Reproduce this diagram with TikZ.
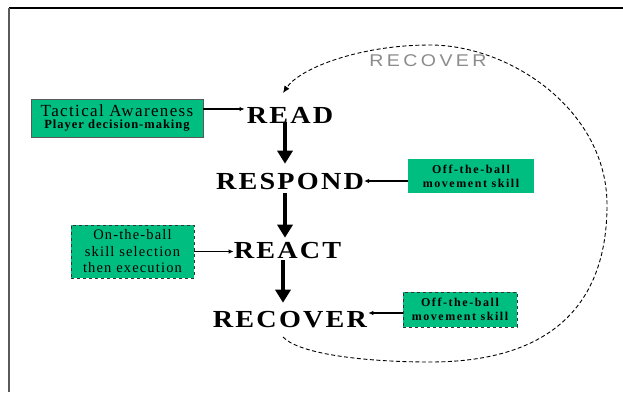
\documentclass[tikz,border=0pt]{standalone}
\usepackage{fontspec}
\setmainfont{Liberation Serif}
\newfontfamily\stagefont[LetterSpace=9,FakeStretch=1.15]{Liberation Serif}
\newfontfamily\boxfont[LetterSpace=8]{Liberation Serif}
\newfontfamily\boxwidefont[LetterSpace=13]{Liberation Serif}
\newfontfamily\loopfont[LetterSpace=20,FakeStretch=1.15]{Liberation Sans}
\usetikzlibrary{arrows.meta}
\definecolor{boxgreen}{RGB}{0,190,128}
\definecolor{loopgray}{RGB}{140,140,140}
\definecolor{framegray}{RGB}{90,90,90}
\tikzset{
  stage/.style={font=\stagefont\bfseries\fontsize{24.5}{26}\selectfont, inner sep=0pt, text height=16.2pt, text depth=0pt},
  greenbox/.style={fill=boxgreen, align=center, inner sep=0pt},
  bigarrow/.style={line width=4.5pt, -{Triangle[width=15pt,length=13pt]}},
  smallarrow/.style={line width=1.2pt, -{Latex[length=5pt,width=4.5pt]}},
  loopline/.style={line width=0.9pt, dash pattern=on 4pt off 2.5pt, -{Latex[length=7pt,width=6pt]}},
}
\begin{document}
\begin{tikzpicture}[x=1pt,y=-1pt]
\useasboundingbox (0,0) rectangle (623,392);
\fill[white] (0,0) rectangle (623,392);
% frame
\draw[line width=1.5pt] (9,8) -- (623,8);
\draw[line width=1.5pt, framegray] (9,8) -- (9,392);

% stages
\node[stage] (read) at (290,115) {READ};
\node[stage] (respond) at (290,181) {RESPOND};
\node[stage] (react) at (287.5,250) {REACT};
\node[stage] (recover) at (290,319) {RECOVER};

% boxes
\node[greenbox, draw=framegray, line width=0.6pt, minimum width=172pt, minimum height=38pt,
      font=\boxfont\bfseries\fontsize{12.5}{14}\selectfont] (tact) at (117,118)
  {{\mdseries\fontsize{17}{17}\selectfont Tactical Awareness}\\[-1.5pt]Player decision-making};
\node[greenbox, minimum width=126pt, minimum height=34pt,
      font=\boxwidefont\bfseries\fontsize{12}{14}\selectfont] (off1) at (471,176)
  {Off-the-ball\\ movement skill};
\node[greenbox, draw=black!80, dashed, line width=0.8pt, minimum width=123pt, minimum height=53pt,
      font=\boxfont\fontsize{14.5}{16.5}\selectfont] (onball) at (132.5,251.5)
  {On-the-ball\\ skill selection\\ then execution};
\node[greenbox, draw=black!80, dashed, line width=0.8pt, minimum width=114pt, minimum height=35pt,
      font=\boxwidefont\bfseries\fontsize{12}{14}\selectfont] (off2) at (460,309.5)
  {Off-the-ball\\ movement skill};

% main flow
\draw[bigarrow, shorten <=-1pt, shorten >=9pt] ([xshift=-5pt]read.south) -- ([xshift=-5pt]read.south |- respond.north);
\draw[bigarrow, shorten <=4pt, shorten >=4pt] ([xshift=-5pt]respond.south) -- ([xshift=-5pt]respond.south |- react.north);
\draw[bigarrow, shorten <=2pt, shorten >=8pt] ([xshift=-4.5pt]react.south) -- ([xshift=-4.5pt]react.south |- recover.north);

% side arrows
\draw[smallarrow, shorten >=2pt] ([yshift=9pt]tact.east) -- ([yshift=9pt]tact.east -| read.west);
\draw[smallarrow] (off1.west |- respond.east) -- (respond.east);
\draw[smallarrow] (onball.east) -- (onball.east -| react.west);
\draw[smallarrow, shorten >=1pt] ([yshift=-3.5pt]off2.west) -- ([yshift=-3.5pt]off2.west -| recover.east);

% recover loop
\coordinate (loopstart) at (283,337);
\coordinate (loopend) at (283,93);
\draw[loopline] (loopstart) .. controls (300,355) and (370,362) .. (430,362)
  .. controls (545,362) and (607,310) .. (607,205)
  .. controls (607,110) and (510,45) .. (430,45)
  .. controls (360,45) and (300,68) .. (loopend);
\node[font=\loopfont\fontsize{17}{18}\selectfont, text=loopgray, inner sep=0pt] (looplabel) at (428,61) {RECOVER};
\end{tikzpicture}
\end{document}
